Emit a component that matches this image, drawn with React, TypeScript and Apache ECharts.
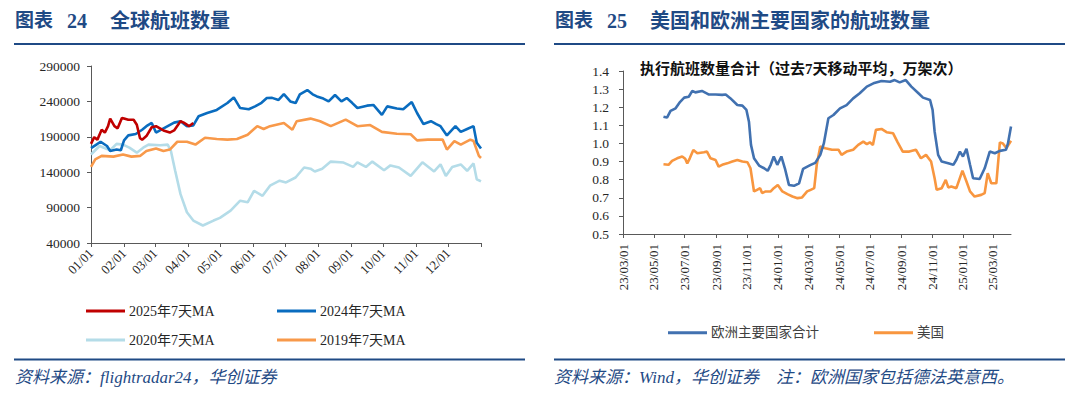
import React, { useEffect, useRef } from "react";
import * as echarts from "echarts";

// ---------- Left chart: global flights (day of year) ----------
const leftMonthDays = [0, 31, 60, 91, 121, 152, 182, 213, 244, 274, 305, 335];
const leftMonthLabels = ["01/01", "02/01", "03/01", "04/01", "05/01", "06/01", "07/01", "08/01", "09/01", "10/01", "11/01", "12/01"];
const leftTickDays = [...leftMonthDays, 366];
const leftYTicks = [40000, 90000, 140000, 190000, 240000, 290000];

const days2025 = [0, 3, 6, 10, 13, 16, 18, 22, 25, 29, 31, 35, 40, 43, 46, 48, 52, 57, 61, 68, 74, 78, 84, 87, 92, 96];
const vals2025 = [180000, 189500, 186000, 200000, 196000, 205000, 215700, 205000, 202000, 216700, 216000, 214000, 214000, 207000, 188000, 186000, 191000, 203500, 205000, 199000, 196000, 199000, 212000, 210000, 205000, 209600];

const days2024 = [0, 4, 9, 15, 18, 24, 28, 31, 35, 42, 48, 52, 57, 61, 66, 72, 78, 84, 90, 96, 101, 109, 118, 128, 134, 140, 148, 154, 160, 165, 170, 176, 181, 187, 192, 196, 203, 208, 212, 218, 223, 229, 235, 240, 245, 250, 259, 265, 273, 278, 287, 293, 301, 306, 312, 319, 324, 328, 334, 342, 347, 353, 359, 362, 366];
const vals2024 = [174000, 178000, 183000, 177000, 170000, 172000, 171000, 185000, 192000, 194000, 200000, 205000, 209600, 196000, 200000, 205000, 210000, 212000, 205000, 206000, 219000, 223600, 228000, 237700, 245600, 230600, 229000, 233000, 238000, 244700, 245000, 242000, 250300, 240000, 237600, 250000, 256000, 250000, 247000, 244000, 240000, 249000, 240000, 244700, 238000, 230700, 234000, 235000, 221000, 233000, 230000, 229000, 239000, 223600, 208000, 212000, 208000, 205000, 192000, 205000, 197000, 201000, 205000, 181600, 173600];

const days2020 = [0, 8, 18, 24, 30, 36, 43, 49, 54, 65, 72, 75, 79, 84, 90, 96, 105, 115, 121, 131, 140, 147, 153, 161, 168, 177, 183, 192, 200, 206, 210, 217, 225, 237, 246, 250, 258, 264, 275, 281, 289, 300, 311, 322, 328, 333, 339, 347, 353, 359, 362, 366];
const vals2020 = [165000, 177000, 171000, 180000, 179000, 174600, 167600, 174600, 179000, 178000, 179000, 170000, 142000, 109000, 83500, 71700, 64700, 71700, 75500, 85700, 99800, 97500, 113700, 106700, 121000, 128000, 125500, 132500, 146600, 145000, 141000, 145000, 155000, 153600, 147500, 154000, 147500, 155000, 142800, 149600, 146600, 134800, 154000, 141000, 151000, 134800, 147500, 151000, 142000, 152400, 130000, 127000];

const days2019 = [0, 4, 10, 21, 30, 38, 46, 52, 61, 68, 74, 81, 90, 98, 107, 118, 128, 137, 147, 156, 162, 168, 181, 189, 193, 206, 215, 225, 239, 250, 262, 273, 287, 300, 306, 316, 330, 334, 341, 347, 356, 359, 364, 366];
const vals2019 = [147500, 158000, 163000, 162000, 165000, 162000, 163000, 170000, 173600, 170000, 172000, 183000, 183000, 179000, 188600, 187000, 186000, 187000, 193000, 205000, 201000, 205000, 209600, 200000, 212000, 215700, 212000, 205000, 214300, 205000, 206600, 197000, 194300, 193600, 185000, 186000, 186000, 172000, 184000, 179000, 186000, 184000, 163000, 160000];

// ---------- Right chart: US & Europe (days since 2023-03-01) ----------
const rightTickDays = [0, 61, 122, 184, 245, 306, 366, 427, 488, 550, 611, 672, 731];
const rightTickLabels = ["23/03/01", "23/05/01", "23/07/01", "23/09/01", "23/11/01", "24/01/01", "24/03/01", "24/05/01", "24/07/01", "24/09/01", "24/11/01", "25/01/01", "25/03/01"];

const daysEU = [80, 87, 94, 104, 113, 121, 130, 137, 143, 156, 170, 183, 196, 203, 212, 226, 236, 244, 249, 253, 259, 269, 279, 286, 292, 298, 305, 313, 320, 328, 338, 348, 356, 370, 380, 390, 397, 406, 416, 429, 442, 455, 468, 482, 495, 511, 528, 537, 547, 559, 570, 584, 593, 607, 612, 616, 623, 630, 643, 653, 659, 666, 672, 679, 686, 692, 705, 715, 725, 735, 745, 757, 761, 767];
const valsEU = [1.148, 1.143, 1.18, 1.194, 1.23, 1.253, 1.258, 1.29, 1.282, 1.29, 1.27, 1.27, 1.268, 1.27, 1.25, 1.212, 1.209, 1.185, 1.12, 0.992, 0.918, 0.878, 0.863, 0.849, 0.882, 0.928, 0.882, 0.928, 0.863, 0.771, 0.766, 0.78, 0.86, 0.88, 0.893, 0.937, 1.0, 1.139, 1.157, 1.194, 1.212, 1.249, 1.277, 1.314, 1.332, 1.345, 1.341, 1.35, 1.337, 1.35, 1.314, 1.277, 1.253, 1.24, 1.185, 1.066, 0.937, 0.9, 0.89, 0.882, 0.91, 0.955, 0.928, 0.97, 0.882, 0.808, 0.804, 0.863, 0.955, 0.946, 0.959, 0.965, 1.0, 1.093];

const daysUS = [80, 90, 97, 107, 117, 123, 127, 132, 139, 147, 160, 166, 173, 183, 189, 196, 206, 216, 226, 236, 246, 252, 259, 265, 271, 275, 282, 292, 298, 306, 315, 325, 335, 345, 354, 364, 371, 378, 383, 390, 400, 413, 426, 432, 442, 455, 465, 475, 482, 488, 494, 500, 511, 521, 534, 543, 553, 566, 579, 589, 599, 609, 616, 620, 630, 638, 643, 649, 659, 671, 679, 686, 695, 708, 715, 721, 728, 738, 745, 751, 758, 767];
const valsUS = [0.885, 0.882, 0.904, 0.918, 0.928, 0.915, 0.89, 0.918, 0.964, 0.946, 0.951, 0.955, 0.918, 0.909, 0.872, 0.882, 0.89, 0.9, 0.909, 0.9, 0.896, 0.863, 0.735, 0.744, 0.753, 0.726, 0.735, 0.735, 0.753, 0.771, 0.735, 0.72, 0.707, 0.698, 0.702, 0.735, 0.744, 0.753, 0.882, 0.983, 0.974, 0.965, 0.965, 0.937, 0.955, 0.965, 0.992, 1.01, 0.996, 1.006, 0.992, 1.075, 1.08, 1.062, 1.056, 1.006, 0.955, 0.955, 0.965, 0.918, 0.937, 0.9, 0.808, 0.744, 0.753, 0.799, 0.757, 0.762, 0.753, 0.849, 0.79, 0.735, 0.707, 0.716, 0.726, 0.836, 0.78, 0.78, 1.006, 1.0, 0.974, 1.015];

const NAVY = "#1F4A85";
const AXIS = "#595959";
const LABEL = "#262626";
const SERIF = "'Liberation Serif', 'Noto Sans CJK SC', serif";
const CJK = "'Liberation Serif', 'Noto Sans CJK SC', sans-serif";

const pairs = (d: number[], v: number[]) => d.map((x, i) => [x, v[i]]);

function legendItem(name: string, left: number, top: number, fontSize: number, color: string) {
  return {
    data: [name],
    left,
    top,
    icon: "rect",
    itemWidth: 39,
    itemHeight: 3,
    itemGap: 4,
    selectedMode: false,
    textStyle: { fontSize, fontFamily: CJK, color, padding: [0, 0, 0, -1] },
  };
}

function buildOption() {
  const lineSeries = (name: string, data: number[][], color: string, axis: number, z: number, width = 2.6) => ({
    name,
    type: "line",
    data,
    xAxisIndex: axis,
    yAxisIndex: axis,
    showSymbol: false,
    symbol: "none",
    silent: true,
    z,
    lineStyle: { color, width },
    itemStyle: { color },
  });

  return {
    animation: false,
    backgroundColor: "#ffffff",
    grid: [
      { left: 91, top: 66, width: 390, height: 177 },
      { left: 623, top: 71, width: 388, height: 163 },
    ],
    xAxis: [
      {
        type: "value",
        gridIndex: 0,
        min: 0,
        max: 366,
        splitLine: { show: false },
        axisLine: { show: true, lineStyle: { color: AXIS, width: 1 } },
        axisTick: { show: true, customValues: leftTickDays, length: 4, lineStyle: { color: AXIS } },
        axisLabel: {
          customValues: leftMonthDays,
          rotate: 45,
          margin: 8,
          fontSize: 13,
          fontFamily: SERIF,
          color: LABEL,
          formatter: (v: number) => leftMonthLabels[leftMonthDays.indexOf(v)] ?? "",
        },
      },
      {
        type: "value",
        gridIndex: 1,
        min: 0,
        max: 767,
        splitLine: { show: false },
        axisLine: { show: true, lineStyle: { color: AXIS, width: 1 } },
        axisTick: { show: true, customValues: rightTickDays, length: 4, lineStyle: { color: AXIS } },
        axisLabel: {
          customValues: rightTickDays,
          rotate: 90,
          margin: 10,
          fontSize: 13,
          fontFamily: SERIF,
          color: LABEL,
          formatter: (v: number) => rightTickLabels[rightTickDays.indexOf(v)] ?? "",
        },
      },
    ],
    yAxis: [
      {
        type: "value",
        gridIndex: 0,
        min: 40000,
        max: 290000,
        splitLine: { show: false },
        axisLine: { show: true, lineStyle: { color: AXIS, width: 1 } },
        axisTick: { show: true, customValues: leftYTicks, length: 4, lineStyle: { color: AXIS } },
        axisLabel: {
          customValues: leftYTicks,
          margin: 11,
          fontSize: 13.5,
          fontFamily: SERIF,
          color: LABEL,
          formatter: (v: number) => String(v),
        },
      },
      {
        type: "value",
        gridIndex: 1,
        min: 0.5,
        max: 1.4,
        interval: 0.1,
        splitLine: { show: false },
        axisLine: { show: true, lineStyle: { color: AXIS, width: 1 } },
        axisTick: { show: true, length: 4, lineStyle: { color: AXIS } },
        axisLabel: {
          margin: 14,
          fontSize: 13.5,
          fontFamily: SERIF,
          color: LABEL,
          formatter: (v: number) => v.toFixed(1),
        },
      },
    ],
    legend: [
      legendItem("2025年7天MA", 81, 299, 14, LABEL),
      legendItem("2024年7天MA", 272, 299, 14, LABEL),
      legendItem("2020年7天MA", 81, 328, 14, LABEL),
      legendItem("2019年7天MA", 272, 328, 14, LABEL),
      legendItem("欧洲主要国家合计", 663, 321, 13.5, "#404040"),
      legendItem("美国", 869, 321, 13.5, "#404040"),
    ],
    series: [
      lineSeries("2020年7天MA", pairs(days2020, vals2020), "#B4DCE8", 0, 2),
      lineSeries("2019年7天MA", pairs(days2019, vals2019), "#F8994A", 0, 3),
      lineSeries("2024年7天MA", pairs(days2024, vals2024), "#0A6CBF", 0, 4),
      lineSeries("2025年7天MA", pairs(days2025, vals2025), "#C00000", 0, 5),
      lineSeries("欧洲主要国家合计", pairs(daysEU, valsEU), "#4171B0", 1, 4, 2.6),
      lineSeries("美国", pairs(daysUS, valsUS), "#F8963F", 1, 3, 2.6),
    ],
    graphic: [
      { type: "text", left: 15, top: 11, style: { text: "图表", fill: NAVY, font: `bold 19px ${CJK}` } },
      { type: "text", left: 67, top: 11, style: { text: "24", fill: NAVY, font: `bold 20px ${SERIF}` } },
      { type: "text", left: 110, top: 11, style: { text: "全球航班数量", fill: NAVY, font: `bold 20px ${CJK}` } },
      { type: "text", left: 555, top: 11, style: { text: "图表", fill: NAVY, font: `bold 19px ${CJK}` } },
      { type: "text", left: 607, top: 11, style: { text: "25", fill: NAVY, font: `bold 20px ${SERIF}` } },
      { type: "text", left: 650, top: 11, style: { text: "美国和欧洲主要国家的航班数量", fill: NAVY, font: `bold 20px ${CJK}` } },
      { type: "line", shape: { x1: 14, y1: 44, x2: 525, y2: 44 }, style: { stroke: NAVY, lineWidth: 2 } },
      { type: "line", shape: { x1: 554, y1: 44, x2: 1065, y2: 44 }, style: { stroke: NAVY, lineWidth: 2 } },
      { type: "line", shape: { x1: 14, y1: 359.5, x2: 525, y2: 359.5 }, style: { stroke: NAVY, lineWidth: 2 } },
      { type: "line", shape: { x1: 554, y1: 359.5, x2: 1065, y2: 359.5 }, style: { stroke: NAVY, lineWidth: 2 } },
      { type: "text", left: 640, top: 61, style: { text: "执行航班数量合计（过去7天移动平均，万架次）", fill: "#111111", font: `bold 15px ${CJK}` } },
      { type: "text", left: 15, top: 369, style: { text: "资料来源：flightradar24，华创证券", fill: NAVY, font: `italic 17px ${CJK}` } },
      { type: "text", left: 554, top: 369, style: { text: "资料来源：Wind，华创证券　注：欧洲国家包括德法英意西。", fill: NAVY, font: `italic 17px ${CJK}` } },
    ],
  };
}

export default function App() {
  const ref = useRef<HTMLDivElement>(null);
  useEffect(() => {
    if (!ref.current) return;
    const chart = echarts.init(ref.current, null, { renderer: "svg" });
    chart.setOption(buildOption() as any);
    return () => chart.dispose();
  }, []);
  return (
    <div
      ref={ref}
      style={{ position: "absolute", left: 0, top: 0, width: 1080, height: 396, background: "#fff" }}
    />
  );
}
